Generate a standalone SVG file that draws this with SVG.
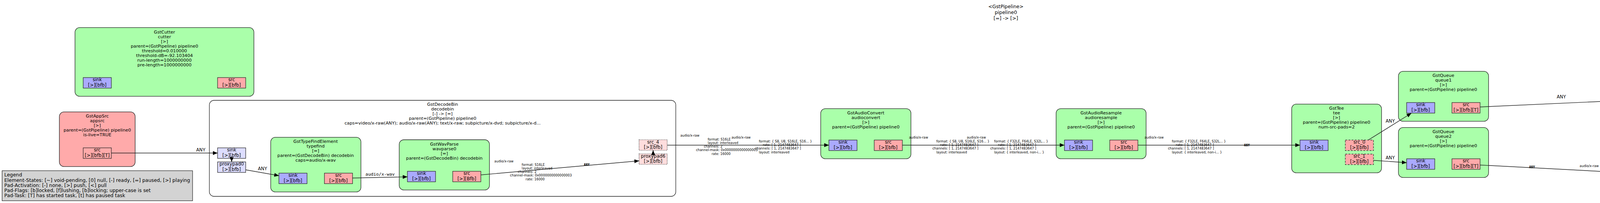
<svg xmlns="http://www.w3.org/2000/svg" width="5151" height="520" viewBox="0 0 5151 520">
<style>
text{font-family:"DejaVu Sans","Liberation Sans",sans-serif;fill:#000}
.n{font-size:11.2px;text-anchor:middle}
.p{font-size:11.8px;text-anchor:middle}
.t{font-size:12.4px;text-anchor:middle}
.lg{font-size:12.4px}
.a{font-size:11.5px;text-anchor:middle}
.m{font-family:"DejaVu Sans Mono","Liberation Mono",monospace;font-size:8.3px}
.mb{font-family:"DejaVu Sans Mono","Liberation Mono",monospace;font-size:8.3px;font-weight:bold;text-anchor:middle}
.ml{font-family:"DejaVu Sans Mono","Liberation Mono",monospace;font-size:11.3px;text-anchor:middle}
.el{fill:#aaffaa;stroke:#222;stroke-width:1.3}
.src{fill:#ffaaaa;stroke:#222;stroke-width:1.3}
.snk{fill:#aaaaff;stroke:#222;stroke-width:1.3}
.bin{fill:#ffffff;stroke:#222;stroke-width:1.3}
.ps{fill:#aaaaff;stroke:#222;stroke-width:1.2}
.pr{fill:#ffaaaa;stroke:#222;stroke-width:1.2}
.gs{fill:#ddddff;stroke:#222;stroke-width:1.2}
.gr{fill:#ffdddd;stroke:#222;stroke-width:1.2;stroke-dasharray:2,2}
.rq{fill:#ffaaaa;stroke:#222;stroke-width:1.2;stroke-dasharray:5,3}
.e{fill:none;stroke:#222;stroke-width:1.4;marker-end:url(#arr)}
</style>
<defs>
<marker id="arr" markerUnits="userSpaceOnUse" markerWidth="12" markerHeight="10" refX="12" refY="5" orient="auto"><path d="M0,0 L12,5 L0,10 z" fill="#000"/></marker>
</defs>
<rect width="5151" height="520" fill="#ffffff"/>
<g id="title">
<text class="t" x="2575" y="21">&lt;GstPipeline&gt;</text>
<text class="t" x="2575" y="36">pipeline0</text>
<text class="t" x="2575" y="51">[=] -&gt; [&gt;]</text>
</g>
<g id="legend">
<rect x="5.4" y="437.3" width="487.6" height="77" fill="#d3d3d3" stroke="#222" stroke-width="1.2"/>
<text class="lg" x="11" y="451.7">Legend</text>
<text class="lg" x="11" y="465.5">Element-States: [~] void-pending, [0] null, [-] ready, [=] paused, [&gt;] playing</text>
<text class="lg" x="11" y="478.6">Pad-Activation: [-] none, [&gt;] push, [&lt;] pull</text>
<text class="lg" x="11" y="491.9">Pad-Flags: [b]locked, [f]lushing, [b]locking; upper-case is set</text>
<text class="lg" x="11" y="505.2">Pad-Task: [T] has started task, [t] has paused task</text>
</g>
<g id="cutter">
<rect class="el" x="192" y="70.7" width="458" height="176" rx="12"/>
<text class="n" x="421" y="85.5">GstCutter</text>
<text class="n" x="421" y="97.5">cutter</text>
<text class="n" x="421" y="109.5">[&gt;]</text>
<text class="n" x="421" y="121.5">parent=(GstPipeline) pipeline0</text>
<text class="n" x="421" y="133.5">threshold=0.010000</text>
<text class="n" x="421" y="145.5">threshold-dB=-92.103404</text>
<text class="n" x="421" y="157.5">run-length=1000000000</text>
<text class="n" x="421" y="169.5">pre-length=1000000000</text>
<rect class="ps" x="213" y="198.7" width="72" height="27"/>
<text class="p" x="249" y="208.2">sink</text><text class="p" x="249" y="221.8">[&gt;][bfb]</text>
<rect class="pr" x="557" y="198.7" width="72" height="27"/>
<text class="p" x="593" y="208.2">src</text><text class="p" x="593" y="221.8">[&gt;][bfb]</text>
</g>
<g id="appsrc">
<rect class="src" x="152" y="286.7" width="194" height="140" rx="12"/>
<text class="n" x="249" y="301">GstAppSrc</text>
<text class="n" x="249" y="313">appsrc</text>
<text class="n" x="249" y="325">[&gt;]</text>
<text class="n" x="249" y="337">parent=(GstPipeline) pipeline0</text>
<text class="n" x="249" y="349">is-live=TRUE</text>
<rect class="pr" x="213" y="378.7" width="72" height="27"/>
<text class="p" x="249" y="388.2">src</text><text class="p" x="249" y="401.8">[&gt;][bfb][T]</text>
</g>
<g id="decodebin">
<rect class="bin" x="536" y="257" width="1194" height="246" rx="12"/>
<text class="n" x="1133" y="271">GstDecodeBin</text>
<text class="n" x="1133" y="283">decodebin</text>
<text class="n" x="1133" y="295">[-] -&gt; [=]</text>
<text class="n" x="1133" y="307">parent=(GstPipeline) pipeline0</text>
<text class="n" x="1133" y="319">caps=video/x-raw(ANY); audio/x-raw(ANY); text/x-raw; subpicture/x-dvd; subpicture/x-d...</text>
<rect class="gs" x="557" y="378.7" width="72" height="27"/>
<text class="p" x="593" y="388.2">sink</text><text class="p" x="593" y="401.8">[&gt;][bfb]</text>
<rect class="gs" x="557" y="414.7" width="72" height="27"/>
<text class="p" x="593" y="424.2">proxypad0</text><text class="p" x="593" y="437.8">[&gt;][bfb]</text>
<rect class="gr" x="1636" y="358" width="72" height="27"/>
<text class="p" x="1672" y="367.5">src_4</text><text class="p" x="1672" y="381.1">[&gt;][bfb]</text>
<rect class="gr" x="1636" y="394" width="72" height="27"/>
<text class="p" x="1672" y="403.5">proxypad6</text><text class="p" x="1672" y="417.1">[&gt;][bfb]</text>
</g>
<g id="typefind">
<rect class="el" x="693" y="351.7" width="231" height="140" rx="12"/>
<text class="n" x="808" y="366">GstTypeFindElement</text>
<text class="n" x="808" y="378">typefind</text>
<text class="n" x="808" y="390">[=]</text>
<text class="n" x="808" y="402">parent=(GstDecodeBin) decodebin</text>
<text class="n" x="808" y="414">caps=audio/x-wav</text>
<rect class="ps" x="714" y="443.5" width="72" height="27"/>
<text class="p" x="750" y="453">sink</text><text class="p" x="750" y="466.6">[&gt;][bfb]</text>
<rect class="pr" x="830.5" y="443.5" width="72" height="27"/>
<text class="p" x="866.5" y="453">src</text><text class="p" x="866.5" y="466.6">[&gt;][bfb]</text>
</g>
<g id="wavparse0">
<rect class="el" x="1022" y="358" width="231" height="128.7" rx="12"/>
<text class="n" x="1137.5" y="373">GstWavParse</text>
<text class="n" x="1137.5" y="385">wavparse0</text>
<text class="n" x="1137.5" y="397">[=]</text>
<text class="n" x="1137.5" y="409">parent=(GstDecodeBin) decodebin</text>
<rect class="ps" x="1043" y="438.7" width="72" height="27"/>
<text class="p" x="1079" y="448.2">sink</text><text class="p" x="1079" y="461.8">[&gt;][bfb]</text>
<rect class="pr" x="1159" y="438.7" width="72" height="27"/>
<text class="p" x="1195" y="448.2">src</text><text class="p" x="1195" y="461.8">[&gt;][Bfb]</text>
</g>
<g id="audioconvert">
<rect class="el" x="2101" y="278.3" width="231" height="128.4" rx="12"/>
<text class="n" x="2216.5" y="293">GstAudioConvert</text>
<text class="n" x="2216.5" y="305">audioconvert</text>
<text class="n" x="2216.5" y="317">[&gt;]</text>
<text class="n" x="2216.5" y="329">parent=(GstPipeline) pipeline0</text>
<rect class="ps" x="2122" y="358.7" width="72" height="27"/>
<text class="p" x="2158" y="368.2">sink</text><text class="p" x="2158" y="381.8">[&gt;][bfb]</text>
<rect class="pr" x="2238" y="358.7" width="72" height="27"/>
<text class="p" x="2274" y="368.2">src</text><text class="p" x="2274" y="381.8">[&gt;][bfb]</text>
</g>
<g id="audioresample">
<rect class="el" x="2703.6" y="278.3" width="230.4" height="128.4" rx="12"/>
<text class="n" x="2818.8" y="293">GstAudioResample</text>
<text class="n" x="2818.8" y="305">audioresample</text>
<text class="n" x="2818.8" y="317">[&gt;]</text>
<text class="n" x="2818.8" y="329">parent=(GstPipeline) pipeline0</text>
<rect class="ps" x="2725" y="358.7" width="72" height="27"/>
<text class="p" x="2761" y="368.2">sink</text><text class="p" x="2761" y="381.8">[&gt;][bfb]</text>
<rect class="pr" x="2841" y="358.7" width="72" height="27"/>
<text class="p" x="2877" y="368.2">src</text><text class="p" x="2877" y="381.8">[&gt;][bfb]</text>
</g>
<g id="tee">
<rect class="el" x="3306.7" y="266.7" width="230" height="176" rx="12"/>
<text class="n" x="3421.6" y="281">GstTee</text>
<text class="n" x="3421.6" y="293">tee</text>
<text class="n" x="3421.6" y="305">[&gt;]</text>
<text class="n" x="3421.6" y="317">parent=(GstPipeline) pipeline0</text>
<text class="n" x="3421.6" y="329">num-src-pads=2</text>
<rect class="ps" x="3328" y="358.7" width="72" height="27"/>
<text class="p" x="3364" y="368.2">sink</text><text class="p" x="3364" y="381.8">[&gt;][bfb]</text>
<rect class="rq" x="3444" y="358.7" width="72" height="27"/>
<text class="p" x="3480" y="368.2">src_0</text><text class="p" x="3480" y="381.8">[&gt;][bfb]</text>
<rect class="rq" x="3444" y="394.7" width="72" height="27"/>
<text class="p" x="3480" y="404.2">src_1</text><text class="p" x="3480" y="417.8">[&gt;][bfb]</text>
</g>
<g id="queue1">
<rect class="el" x="3580" y="182.7" width="230.7" height="128" rx="12"/>
<text class="n" x="3695" y="197.3">GstQueue</text>
<text class="n" x="3695" y="209.3">queue1</text>
<text class="n" x="3695" y="221.3">[&gt;]</text>
<text class="n" x="3695" y="233.3">parent=(GstPipeline) pipeline0</text>
<rect class="ps" x="3601" y="262.7" width="72" height="27"/>
<text class="p" x="3637" y="272.2">sink</text><text class="p" x="3637" y="285.8">[&gt;][bfb]</text>
<rect class="pr" x="3717" y="262.7" width="72" height="27"/>
<text class="p" x="3753" y="272.2">src</text><text class="p" x="3753" y="285.8">[&gt;][bfb][T]</text>
</g>
<g id="queue2">
<rect class="el" x="3580" y="326.7" width="230.7" height="128" rx="12"/>
<text class="n" x="3695" y="341.3">GstQueue</text>
<text class="n" x="3695" y="353.3">queue2</text>
<text class="n" x="3695" y="365.3">[&gt;]</text>
<text class="n" x="3695" y="377.3">parent=(GstPipeline) pipeline0</text>
<rect class="ps" x="3601" y="406.7" width="72" height="27"/>
<text class="p" x="3637" y="416.2">sink</text><text class="p" x="3637" y="429.8">[&gt;][bfb]</text>
<rect class="pr" x="3717" y="406.7" width="72" height="27"/>
<text class="p" x="3753" y="416.2">src</text><text class="p" x="3753" y="429.8">[&gt;][bfb][T]</text>
</g>
<g id="filesink">
<rect class="snk" x="4183" y="133.3" width="194" height="152" rx="12"/>
<text class="n" x="4280" y="147.3">GstFileSink</text>
<text class="n" x="4280" y="159.3">filesink</text>
<text class="n" x="4280" y="171.3">[-] -&gt; [&gt;]</text>
<text class="n" x="4280" y="183.3">parent=(GstPipeline) pipeline0</text>
<text class="n" x="4280" y="195.3">sync=FALSE</text>
<text class="n" x="4280" y="207.3">location="/dev/null"</text>
<rect class="ps" x="4244" y="237.3" width="72" height="27"/>
<text class="p" x="4280" y="246.8">sink</text><text class="p" x="4280" y="260.4">[&gt;][bfb]</text>
</g>
<g id="asr">
<rect class="el" x="4149.5" y="296" width="429" height="187.3" rx="12"/>
<text class="n" x="4364" y="310">GstOnlineGmmDecodeFaster</text>
<text class="n" x="4364" y="322">asr</text>
<text class="n" x="4364" y="334">[&gt;]</text>
<text class="n" x="4364" y="346">parent=(GstPipeline) pipeline0</text>
<text class="n" x="4364" y="358">model="test/models/estonian/tri2b_mmi_pruned/final.mdl"</text>
<text class="n" x="4364" y="370">fst="test/models/estonian/tri2b_mmi_pruned/HCLG.fst"</text>
<text class="n" x="4364" y="382">word-syms="test/models/estonian/tri2b_mmi_pruned/words.txt"</text>
<text class="n" x="4364" y="394">silence-phones="6"</text>
<text class="n" x="4364" y="406">lda-mat="test/models/estonian/tri2b_mmi_pruned/final.mat"</text>
<rect class="ps" x="4244" y="435.7" width="72" height="27"/>
<text class="p" x="4280" y="445.2">sink</text><text class="p" x="4280" y="458.8">[&gt;][bfb]</text>
<rect class="pr" x="4410.5" y="435.7" width="72" height="27"/>
<text class="p" x="4446.5" y="445.2">src</text><text class="p" x="4446.5" y="458.8">[&gt;][bfb][t]</text>
</g>
<g id="fakesink">
<rect class="snk" x="4950.8" y="343.3" width="194" height="140" rx="12"/>
<text class="n" x="5047.7" y="358">GstFakeSink</text>
<text class="n" x="5047.7" y="370">fakesink</text>
<text class="n" x="5047.7" y="382">[-] -&gt; [=]</text>
<text class="n" x="5047.7" y="394">parent=(GstPipeline) pipeline0</text>
<text class="n" x="5047.7" y="406">sync=FALSE</text>
<rect class="ps" x="5012" y="435.7" width="72" height="27"/>
<text class="p" x="5048" y="445.2">sink</text><text class="p" x="5048" y="458.8">[&gt;][bfb]</text>
</g>
<g id="connectors">
<path class="e" d="M285,392 L557,392"/>
<text class="a" x="514" y="388">ANY</text>
<path class="e" d="M593,400 L593,414.7"/>
<path class="e" d="M629,435 L714,450"/>
<text class="a" x="672" y="436">ANY</text>
<path class="e" d="M902.5,456 L1043,453"/>
<text class="ml" x="973" y="450">audio/x-wav</text>
<path class="e" d="M1231,448 L1636,412"/>
<text class="mb" x="1502" y="424.5">ANY</text>
<g class="m">
<text x="1265.6" y="415.5">audio/x-raw</text>
<text x="1335.6" y="424.7">format: S16LE</text>
<text x="1335.6" y="433.9">layout: interleaved</text>
<text x="1325.6" y="443.1">channels: 2</text>
<text x="1305.6" y="452.3">channel-mask: 0x0000000000000003</text>
<text x="1345.6" y="461.5">rate: 16000</text>
</g>
<path class="e" d="M1672,400 L1672,385"/>
<path class="e" d="M1708,371.7 L2122,371.7"/>
<g class="m">
<text x="1741.7" y="350.3">audio/x-raw</text>
<text x="1811.7" y="359.6">format: S16LE</text>
<text x="1811.7" y="368.8">layout: interleaved</text>
<text x="1801.7" y="378">channels: 2</text>
<text x="1781.7" y="387.3">channel-mask: 0x0000000000000003</text>
<text x="1821.7" y="396.6">rate: 16000</text>
<text x="1872.7" y="355.3">audio/x-raw</text>
<text x="1942.7" y="364.6">format: { S8, U8, S16LE, S16... }</text>
<text x="1952.7" y="374">rate: [ 1, 2147483647 ]</text>
<text x="1932.7" y="383.4">channels: [ 1, 2147483647 ]</text>
<text x="1942.7" y="392.6">layout: interleaved</text>
</g>
<path class="e" d="M2310,371.7 L2725,371.7"/>
<g class="m">
<text x="2327" y="355.3">audio/x-raw</text>
<text x="2397" y="364.6">format: { S8, U8, S16LE, S16... }</text>
<text x="2407" y="374">rate: [ 1, 2147483647 ]</text>
<text x="2387" y="383.4">channels: [ 1, 2147483647 ]</text>
<text x="2397" y="392.6">layout: interleaved</text>
<text x="2475" y="355.3">audio/x-raw</text>
<text x="2545" y="364.6">format: { F32LE, F64LE, S32L... }</text>
<text x="2555" y="374">rate: [ 1, 2147483647 ]</text>
<text x="2535" y="383.4">channels: [ 1, 2147483647 ]</text>
<text x="2545" y="392.6">layout: { interleaved, non-i... }</text>
</g>
<path class="e" d="M2913,371.7 L3328,371.7"/>
<g class="m">
<text x="2930" y="355.3">audio/x-raw</text>
<text x="3000" y="364.6">format: { F32LE, F64LE, S32L... }</text>
<text x="3010" y="374">rate: [ 1, 2147483647 ]</text>
<text x="2990" y="383.4">channels: [ 1, 2147483647 ]</text>
<text x="3000" y="392.6">layout: { interleaved, non-i... }</text>
</g>
<text class="mb" x="3192" y="374.5">ANY</text>
<path class="e" d="M3503,358.7 L3613,290"/>
<text class="a" x="3559" y="314">ANY</text>
<path class="e" d="M3516,410.7 L3601,416.7"/>
<text class="a" x="3559" y="408">ANY</text>
<path class="e" d="M3789,274 L4244,253.3"/>
<text class="a" x="3997" y="251.7">ANY</text>
<path class="e" d="M3789,422.7 L4244,446.7"/>
<text class="mb" x="3922" y="430.7">ANY</text>
<g class="m">
<text x="4043.8" y="428.3">audio/x-raw</text>
<text x="4113.8" y="437.2">format: S16LE</text>
<text x="4103.8" y="446.4">channels: 1</text>
<text x="4123.8" y="455.7">rate: 16000</text>
</g>
<path class="e" d="M4482.5,449 L5012,449"/>
<g class="m">
<text x="4542" y="446.3">text/x-raw</text>
<text x="4612" y="456.3">format: { utf8 }</text>
</g>
<text class="mb" x="4878" y="450.7">ANY</text>
</g>
</svg>
